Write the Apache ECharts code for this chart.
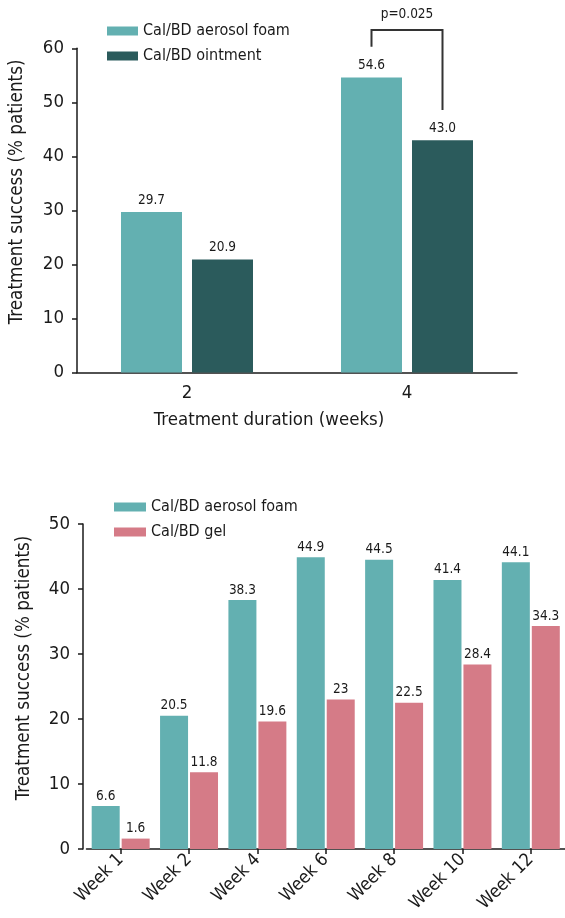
<!DOCTYPE html>
<html>
<head>
<meta charset="utf-8">
<script src="https://cdn.jsdelivr.net/npm/echarts@6/dist/echarts.min.js"></script>
<style>
  html, body { margin: 0; padding: 0; background: #ffffff; }
  #chart { width: 565px; height: 918px; }
</style>
</head>
<body>
<div id="chart"></div>
<script>
// ---------- data ----------
const topCategories = ['2', '4'];
const topFoam = [29.7, 54.6];
const topOintment = [20.9, 43.0];
const topYTicks = [0, 10, 20, 30, 40, 50, 60];

const bottomCategories = ['Week 1', 'Week 2', 'Week 4', 'Week 6', 'Week 8', 'Week 10', 'Week 12'];
const bottomFoam = [6.6, 20.5, 38.3, 44.9, 44.5, 41.4, 44.1];
const bottomGel = [1.6, 11.8, 19.6, 23, 22.5, 28.4, 34.3];
const bottomYTicks = [0, 10, 20, 30, 40, 50];

const seriesNames = ['Cal/BD aerosol foam', 'Cal/BD ointment', 'Cal/BD gel'];
const pValueText = 'p=0.025';
const yAxisTitle = 'Treatment success (% patients)';
const xAxisTitleTop = 'Treatment duration (weeks)';

// ---------- style ----------
const FONT = "'Liberation Sans Narrow', 'Arial Narrow', 'DejaVu Sans Condensed', sans-serif";
const TEXT = '#1a1a1a';
const C_FOAM = '#63b0b1';
const C_OINT = '#2b5b5c';
const C_GEL = '#d57b87';

const chart = echarts.init(document.getElementById('chart'), null, { renderer: 'canvas' });

function yAxisCommon(ticks, gridIndex, offset, gap) {
  return {
    type: 'value', gridIndex: gridIndex,
    min: ticks[0], max: ticks[ticks.length - 1], interval: ticks[1] - ticks[0],
    offset: offset,
    name: yAxisTitle, nameLocation: 'middle', nameGap: gap,
    nameTextStyle: { fontFamily: FONT, fontSize: 18.7, color: TEXT, padding: [0, 0, 0, 37] },
    axisLine: { show: true, lineStyle: { color: TEXT, width: 1.5 } },
    axisTick: { show: true, length: 5, lineStyle: { color: TEXT, width: 1.5 } },
    axisLabel: { fontFamily: FONT, fontSize: 18.5, color: TEXT, margin: 13 },
    splitLine: { show: false }
  };
}

const option = {
  backgroundColor: '#ffffff',
  animation: false,
  textStyle: { fontFamily: FONT },
  legend: [
    {
      orient: 'vertical', left: 107, top: 22, padding: 0, itemGap: 7,
      itemWidth: 31, itemHeight: 9, icon: 'rect', selectedMode: false,
      data: [seriesNames[0], seriesNames[1]],
      textStyle: { fontFamily: FONT, fontSize: 16, color: TEXT, lineHeight: 18 }
    },
    {
      orient: 'vertical', left: 114, top: 498, padding: 0, itemGap: 7,
      itemWidth: 32, itemHeight: 9, icon: 'rect', selectedMode: false,
      data: [seriesNames[0], seriesNames[2]],
      textStyle: { fontFamily: FONT, fontSize: 16, color: TEXT, lineHeight: 18 }
    }
  ],
  grid: [
    { left: 77, top: 48.3, width: 440, height: 324.2 },
    { left: 86.5, top: 524, width: 483, height: 325 }
  ],
  xAxis: [
    {
      type: 'category', gridIndex: 0, data: topCategories,
      name: xAxisTitleTop, nameLocation: 'middle', nameGap: 38,
      nameTextStyle: { fontFamily: FONT, fontSize: 18.5, color: TEXT, padding: [0, 56, 0, 0] },
      axisLine: { show: true, lineStyle: { color: TEXT, width: 1.5 } },
      axisTick: { show: false },
      axisLabel: { fontFamily: FONT, fontSize: 18.5, color: TEXT, margin: 11 }
    },
    {
      type: 'category', gridIndex: 1, data: bottomCategories,
      axisLine: { show: true, lineStyle: { color: TEXT, width: 1.5 } },
      axisTick: { show: true, alignWithLabel: true, length: 5, lineStyle: { color: TEXT, width: 1.5 } },
      axisLabel: { fontFamily: FONT, fontSize: 18, color: TEXT, margin: 8, rotate: 45, interval: 0 }
    }
  ],
  yAxis: [
    yAxisCommon(topYTicks, 0, 0, 50),
    yAxisCommon(bottomYTicks, 1, 3.5, 49)
  ],
  series: [
    {
      name: seriesNames[0], type: 'bar', xAxisIndex: 0, yAxisIndex: 0,
      data: topFoam, barWidth: 61, barGap: '16.4%',
      itemStyle: { color: C_FOAM },
      label: { show: true, position: 'top', distance: 5, fontFamily: FONT, fontSize: 13.5, color: TEXT,
               formatter: p => p.value.toFixed(1) }
    },
    {
      name: seriesNames[1], type: 'bar', xAxisIndex: 0, yAxisIndex: 0,
      data: topOintment, barWidth: 61, barGap: '16.4%',
      itemStyle: { color: C_OINT },
      label: { show: true, position: 'top', distance: 5, fontFamily: FONT, fontSize: 13.5, color: TEXT,
               formatter: p => p.value.toFixed(1) }
    },
    {
      name: seriesNames[0], type: 'bar', xAxisIndex: 1, yAxisIndex: 1,
      data: bottomFoam, barWidth: 28, barGap: '7%',
      itemStyle: { color: C_FOAM },
      label: { show: true, position: 'top', distance: 3, fontFamily: FONT, fontSize: 13.5, color: TEXT }
    },
    {
      name: seriesNames[2], type: 'bar', xAxisIndex: 1, yAxisIndex: 1,
      data: bottomGel, barWidth: 28, barGap: '7%',
      itemStyle: { color: C_GEL },
      label: { show: true, position: 'top', distance: 3, fontFamily: FONT, fontSize: 13.5, color: TEXT }
    }
  ]
};

chart.setOption(option);

// ---------- significance bracket (between the two week-4 bars) ----------
const BRACKET_TOP = 63.4;      // value level of the horizontal bar
const BRACKET_LEFT_END = 60.3; // value level where the left leg stops
const BRACKET_RIGHT_END = 48.6;// value level where the right leg stops
const bracketCat = 1;

function barCenterX(seriesIndex, dataIndex) {
  try {
    const layout = chart.getModel().getSeriesByIndex(seriesIndex).getData().getItemLayout(dataIndex);
    return layout.x + layout.width / 2;
  } catch (e) {
    const c = chart.convertToPixel({ gridIndex: 0 }, [dataIndex, 0])[0];
    return c + (seriesIndex === 0 ? -35.5 : 35.5);
  }
}
const xL = barCenterX(0, bracketCat);
const xR = barCenterX(1, bracketCat);
const yTop = chart.convertToPixel({ gridIndex: 0 }, [bracketCat, BRACKET_TOP])[1];
const yLE = chart.convertToPixel({ gridIndex: 0 }, [bracketCat, BRACKET_LEFT_END])[1];
const yRE = chart.convertToPixel({ gridIndex: 0 }, [bracketCat, BRACKET_RIGHT_END])[1];

chart.setOption({
  graphic: [
    {
      type: 'polyline',
      shape: { points: [[xL, yLE], [xL, yTop], [xR, yTop], [xR, yRE]] },
      style: { stroke: '#333333', lineWidth: 2, fill: null }
    },
    {
      type: 'text', x: (xL + xR) / 2, y: yTop - 15,
      style: { text: pValueText, fontFamily: FONT, fontSize: 13.5, fill: TEXT,
               textAlign: 'center', textVerticalAlign: 'middle' }
    }
  ]
});
</script>
</body>
</html>
